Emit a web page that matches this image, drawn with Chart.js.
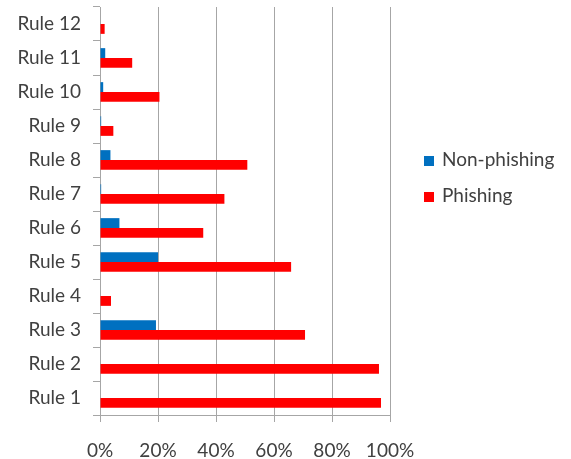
<!DOCTYPE html>
<html>
<head>
<meta charset="utf-8">
<script src="https://cdn.jsdelivr.net/npm/chart.js@4/dist/chart.umd.min.js"></script>
<style>
  body { margin: 0; background: #fff; }
  #wrap { position: relative; width: 571px; height: 459px; }
  #legend { position: absolute; left: 424px; top: 147px; font: 19px Lato, sans-serif; color: #404040; }
  #legend div { height: 36px; line-height: 24px; white-space: nowrap; }
  #legend span { display: inline-block; width: 10px; height: 10px; margin-right: 8px; vertical-align: 0; }
</style>
</head>
<body>
<div id="wrap">
  <canvas id="chart" width="571" height="459"></canvas>
  <div id="legend"></div>
</div>
<script>
const labels = ['Rule 1', 'Rule 2', 'Rule 3', 'Rule 4', 'Rule 5', 'Rule 6',
  'Rule 7', 'Rule 8', 'Rule 9', 'Rule 10', 'Rule 11', 'Rule 12'];
const nonPhishing = [0, 0, 19.3, 0, 20, 6.7, 0.4, 3.6, 0.4, 1.1, 1.8, 0];
const phishing = [96.9, 96.2, 70.7, 3.8, 65.9, 35.6, 42.9, 50.8, 4.6, 20.5, 11.1, 1.6];
const xTicks = [0, 20, 40, 60, 80, 100];

const series = [
  { label: 'Non-phishing', data: nonPhishing, color: '#0070c0' },
  { label: 'Phishing', data: phishing, color: '#ff0000' },
];

const font = { family: 'Lato, sans-serif', size: 19 };
const axisGray = '#a6a6a6';

new Chart(document.getElementById('chart'), {
  type: 'bar',
  data: {
    labels,
    datasets: series.map((s) => ({
      label: s.label,
      data: s.data,
      backgroundColor: s.color,
      categoryPercentage: 0.58,
      barPercentage: 1,
    })),
  },
  options: {
    indexAxis: 'y',
    responsive: false,
    animation: false,
    layout: { padding: { top: 7, right: 181, left: 0, bottom: 0 } },
    plugins: { legend: { display: false }, tooltip: { enabled: false } },
    scales: {
      x: {
        min: 0,
        max: 100,
        afterBuildTicks: (s) => { s.ticks = xTicks.map((v) => ({ value: v })); },
        afterFit: (s) => { s.height = 44; },
        ticks: { font, color: '#404040', padding: 17, callback: (v) => v + '%' },
        grid: { color: axisGray, tickLength: 7, tickColor: axisGray },
        border: { color: axisGray },
      },
      y: {
        reverse: true,
        afterFit: (s) => { s.width = 100; s.paddingTop = 0; s.paddingBottom = 0; },
        ticks: { font, color: '#404040', padding: 12 },
        grid: { drawOnChartArea: false, tickLength: 7, color: axisGray },
        border: { color: axisGray },
      },
    },
  },
});

const legend = document.getElementById('legend');
series.forEach((s) => {
  const row = document.createElement('div');
  row.innerHTML = `<span style="background:${s.color}"></span>${s.label}`;
  legend.appendChild(row);
});
</script>
</body>
</html>
